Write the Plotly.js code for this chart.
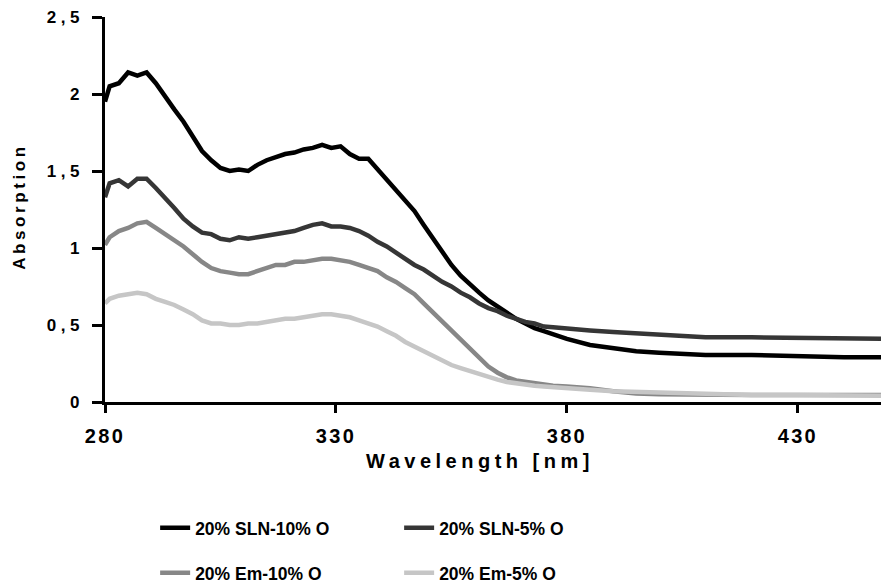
<!DOCTYPE html>
<html>
<head>
<meta charset="utf-8">
<script src="https://cdn.plot.ly/plotly-3.0.1.min.js"></script>
<style>
  html, body { margin: 0; padding: 0; background: #fff; }
  #chart { width: 881px; height: 585px; }
</style>
</head>
<body>
<div id="chart"></div>
<script>
const wavelength = [280, 281, 283, 285, 287, 289, 291, 293, 295, 297, 299, 301, 303, 305, 307, 309, 311, 313, 315, 317, 319, 321, 323, 325, 327, 329, 331, 333, 335, 337, 339, 341, 343, 345, 347, 349, 351, 353, 355, 357, 359, 361, 363, 365, 367, 369, 371, 373, 375, 377, 380, 385, 390, 395, 400, 410, 420, 430, 440, 448];

const sln10 = [1.95, 2.05, 2.07, 2.14, 2.12, 2.14, 2.07, 1.98, 1.90, 1.82, 1.72, 1.63, 1.57, 1.52, 1.50, 1.51, 1.50, 1.54, 1.57, 1.59, 1.61, 1.62, 1.64, 1.65, 1.67, 1.65, 1.66, 1.61, 1.58, 1.58, 1.51, 1.44, 1.38, 1.31, 1.24, 1.15, 1.06, 0.97, 0.89, 0.82, 0.76, 0.71, 0.66, 0.62, 0.58, 0.54, 0.51, 0.48, 0.46, 0.44, 0.41, 0.37, 0.35, 0.33, 0.32, 0.305, 0.305, 0.295, 0.29, 0.29];

const sln5 = [1.33, 1.42, 1.44, 1.40, 1.45, 1.45, 1.39, 1.33, 1.26, 1.19, 1.14, 1.10, 1.09, 1.06, 1.05, 1.07, 1.06, 1.07, 1.08, 1.09, 1.10, 1.11, 1.13, 1.15, 1.16, 1.14, 1.14, 1.13, 1.11, 1.08, 1.04, 1.01, 0.97, 0.93, 0.89, 0.86, 0.82, 0.78, 0.75, 0.71, 0.68, 0.64, 0.61, 0.59, 0.56, 0.54, 0.52, 0.51, 0.49, 0.485, 0.48, 0.465, 0.455, 0.445, 0.435, 0.42, 0.42, 0.415, 0.415, 0.41];

const em10 = [1.02, 1.07, 1.11, 1.13, 1.16, 1.17, 1.13, 1.09, 1.05, 1.01, 0.96, 0.91, 0.87, 0.85, 0.84, 0.83, 0.83, 0.85, 0.87, 0.89, 0.89, 0.91, 0.91, 0.92, 0.93, 0.93, 0.92, 0.91, 0.89, 0.87, 0.85, 0.81, 0.78, 0.74, 0.70, 0.64, 0.58, 0.52, 0.46, 0.40, 0.34, 0.28, 0.23, 0.19, 0.16, 0.14, 0.13, 0.12, 0.11, 0.105, 0.10, 0.09, 0.07, 0.055, 0.05, 0.045, 0.045, 0.045, 0.045, 0.045];

const em5 = [0.64, 0.67, 0.69, 0.70, 0.71, 0.70, 0.67, 0.65, 0.63, 0.60, 0.57, 0.53, 0.51, 0.51, 0.50, 0.50, 0.51, 0.51, 0.52, 0.53, 0.54, 0.54, 0.55, 0.56, 0.57, 0.57, 0.56, 0.55, 0.53, 0.51, 0.49, 0.46, 0.43, 0.39, 0.36, 0.33, 0.30, 0.27, 0.24, 0.22, 0.20, 0.18, 0.16, 0.145, 0.13, 0.12, 0.11, 0.105, 0.10, 0.095, 0.09, 0.08, 0.07, 0.065, 0.06, 0.05, 0.045, 0.045, 0.04, 0.04];

const seriesNames = ["20% SLN-10% O", "20% SLN-5% O", "20% Em-10% O", "20% Em-5% O"];
const xTickVals = [280, 330, 380, 430];
const yTickVals = [0, 0.5, 1, 1.5, 2, 2.5];
const yTickText = ["0", "0,5", "1", "1,5", "2", "2,5"];

const FONT = "Liberation Sans, Arial, Helvetica, sans-serif";
const colors = ["#000000", "#363636", "#878787", "#c6c6c6"];
const seriesData = [sln10, sln5, em10, em5];
const legendIds = ["legend", "legend", "legend2", "legend2"];

const traces = seriesData.map((ys, i) => ({
  type: "scatter",
  mode: "lines",
  x: wavelength,
  y: ys,
  name: seriesNames[i],
  legend: legendIds[i],
  line: { color: colors[i], width: 4.5 },
  hoverinfo: "skip"
}));

const legendCommon = {
  orientation: "h",
  xanchor: "left",
  yanchor: "middle",
  x: 0.0646,
  entrywidth: 199,
  entrywidthmode: "pixels",
  bgcolor: "rgba(0,0,0,0)",
  borderwidth: 0,
  font: { family: FONT, size: 17.5, color: "#000", weight: "bold" },
  traceorder: "normal"
};

const layout = {
  width: 881,
  height: 585,
  margin: { l: 105, r: 0, t: 17, b: 183, autoexpand: false },
  paper_bgcolor: "#fff",
  plot_bgcolor: "#fff",
  showlegend: true,
  separators: ",.",
  font: { family: FONT, color: "#000" },
  xaxis: {
    range: [280, 448],
    tickvals: xTickVals,
    ticks: "outside",
    ticklen: 8,
    tickwidth: 3,
    tickcolor: "#000",
    showline: true,
    linewidth: 3,
    linecolor: "#000",
    showgrid: false,
    zeroline: false,
    automargin: false,
    tickfont: { family: FONT, size: 20, color: "#000", weight: "bold" },
    title: {
      text: "Wavelength [nm]",
      font: { family: FONT, size: 20, color: "#000", weight: "bold" },
      standoff: 12
    }
  },
  yaxis: {
    range: [0, 2.5],
    tickvals: yTickVals,
    ticktext: yTickText,
    ticks: "outside",
    ticklen: 10,
    tickwidth: 3,
    tickcolor: "#000",
    showline: true,
    linewidth: 3,
    linecolor: "#000",
    showgrid: false,
    zeroline: false,
    automargin: false,
    tickfont: { family: FONT, size: 17, color: "#000", weight: "bold" },
    title: {
      text: "Absorption",
      font: { family: FONT, size: 17, color: "#000", weight: "bold" },
      standoff: 14
    }
  },
  legend: Object.assign({}, legendCommon, { y: -0.327 }),
  legend2: Object.assign({}, legendCommon, { y: -0.444 })
};

function moveTo(el, cx, cy, right) {
  const r = el.getBoundingClientRect();
  if (!r.width && !r.height) return;
  let dx = 0, dy = 0;
  if (right != null) dx = right - r.right;
  else if (cx != null) dx = cx - (r.left + r.width / 2);
  if (cy != null) dy = cy - (r.top + r.height / 2);
  if (Math.abs(dx) < 0.05 && Math.abs(dy) < 0.05) return;
  const t = el.getAttribute("transform") || "";
  el.setAttribute("transform", "translate(" + dx + "," + dy + ") " + t);
}

function setLS(sel, v) {
  document.querySelectorAll(sel).forEach(el => {
    if (el.style.letterSpacing !== v) el.style.letterSpacing = v;
  });
}

function fixText() {
  setLS(".xtick text", "2.3px");
  setLS(".ytick text", "4.5px");
  setLS(".xtitle", "4.5px");
  setLS(".ytitle", "3.6px");
  document.querySelectorAll(".xtick text").forEach(el => moveTo(el, null, 435.5, null));
  document.querySelectorAll(".ytick text").forEach(el => moveTo(el, null, null, 84));
  const xt = document.querySelector(".xtitle");
  if (xt) moveTo(xt, 480, 461, null);
  const yt = document.querySelector(".ytitle");
  if (yt) moveTo(yt, 19.5, 206.5, null);
}

const gd = document.getElementById("chart");
Plotly.newPlot(gd, traces, layout, { displayModeBar: false, staticPlot: true }).then(() => {
  fixText();
  gd.on("plotly_afterplot", fixText);
});
</script>
</body>
</html>
